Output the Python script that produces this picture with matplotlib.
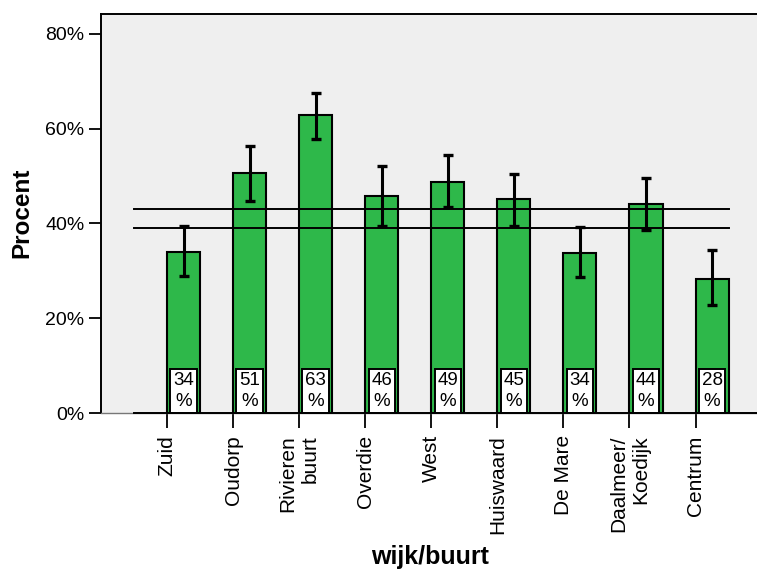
import matplotlib
matplotlib.use('Agg')
import matplotlib.pyplot as plt
import numpy as np

plt.rcParams['font.family'] = ['Liberation Sans', 'DejaVu Sans']

# Data (percentages)
wijken = ['Zuid', 'Oudorp', 'Rivieren\nbuurt', 'Overdie', 'West', 'Huiswaard',
          'De Mare', 'Daalmeer/\nKoedijk', 'Centrum']
procent = [34.0, 50.6, 62.8, 45.7, 48.8, 45.1, 33.8, 44.0, 28.3]
ci_laag = [28.9, 44.7, 57.8, 39.5, 43.4, 39.5, 28.6, 38.6, 22.8]
ci_hoog = [39.5, 56.4, 67.5, 52.2, 54.4, 50.4, 39.3, 49.5, 34.4]
labels = ['34', '51', '63', '46', '49', '45', '34', '44', '28']
ref_lijnen = [43.0, 39.0]

groen = '#2eb84a'
x = np.arange(len(wijken))
w = 0.5

fig = plt.figure(figsize=(7.57, 5.69), dpi=100)
ax = fig.add_axes([101 / 757, 1 - 413 / 569, 656 / 757, 399.5 / 569], facecolor='#efefef')

# bars sit to the right of the tick (tick = left edge of bar)
ax.bar(x, procent, width=w, align='edge', color=groen, edgecolor='black',
       linewidth=1.5, zorder=2)

# error bars
yerr = [np.array(procent) - np.array(ci_laag), np.array(ci_hoog) - np.array(procent)]
ax.errorbar(x + w / 2, procent, yerr=yerr, fmt='none', ecolor='black',
            elinewidth=2.2, capsize=3.5, capthick=2.4, zorder=4)

# reference lines
for r in ref_lijnen:
    ax.plot([-0.5, 8.5], [r, r], color='black', linewidth=1.4, zorder=3)

# value labels in white boxes
for xi, lab in zip(x, labels):
    ax.text(xi + w / 2, 0.6, lab + '\n%', ha='center', va='bottom', fontsize=13.5,
            linespacing=1.3, zorder=5,
            bbox=dict(boxstyle='square,pad=0.15', facecolor='white',
                      edgecolor='black', linewidth=1.4))

ax.set_xlim(-1, 8.93)
ax.set_ylim(0, 84.3)

ax.set_yticks([0, 20, 40, 60, 80])
ax.set_yticklabels(['0%', '20%', '40%', '60%', '80%'])
ax.set_xticks(x)
ax.set_xticklabels(wijken, rotation=90, ha='center', va='top', multialignment='right')

ax.tick_params(axis='y', direction='out', length=9, width=1.3, labelsize=14, pad=3)
ax.tick_params(axis='x', direction='out', length=11, width=1.3, labelsize=15, pad=5)

ax.spines['right'].set_visible(False)
ax.spines['top'].set_linewidth(1.4)
ax.spines['left'].set_linewidth(1.4)
ax.spines['bottom'].set_color('#777777')
ax.spines['bottom'].set_linewidth(1.0)
ax.plot([-0.5, 8.93], [0, 0], color='black', linewidth=1.4, clip_on=False, zorder=6)

fig.text(22 / 757, 1 - 213 / 569, 'Procent', rotation=90, ha='center', va='center',
         fontsize=17.5, fontweight='bold')
fig.text(430 / 757, 1 - 557 / 569, 'wijk/buurt', ha='center', va='center',
         fontsize=18, fontweight='bold')

fig.savefig('out.png', dpi=100)
